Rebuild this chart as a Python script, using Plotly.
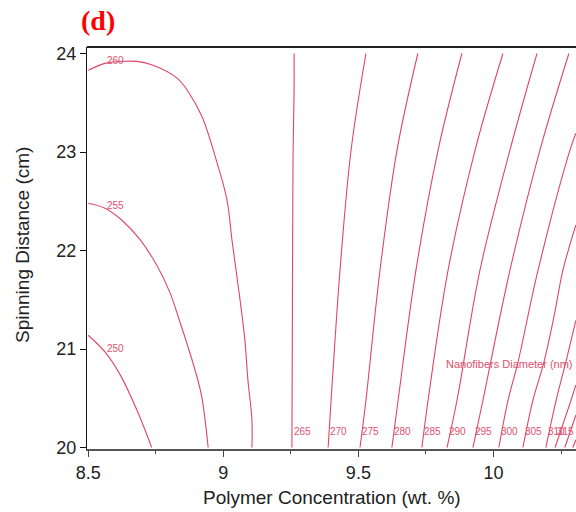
import plotly.graph_objects as go

# ---- data ----
levels = [250, 255, 260, 265, 270, 275, 280, 285, 290, 295, 300, 305, 310, 315, 320, 325]

x_250 = [8.500, 8.562, 8.618, 8.685, 8.735]
y_250 = [21.14, 20.97, 20.74, 20.35, 20.00]

x_255 = [8.500, 8.562, 8.624, 8.692, 8.754, 8.803, 8.833, 8.865, 8.895, 8.920, 8.944]
y_255 = [22.48, 22.43, 22.31, 22.11, 21.85, 21.57, 21.33, 21.06, 20.79, 20.52, 20.00]

x_260 = [8.500, 8.562, 8.629, 8.681, 8.740, 8.829, 8.866, 8.921, 8.977, 9.014, 9.032, 9.062, 9.080, 9.091, 9.106, 9.106]
y_260 = [23.83, 23.90, 23.92, 23.92, 23.88, 23.75, 23.63, 23.36, 22.89, 22.51, 22.11, 21.50, 21.09, 20.69, 20.28, 20.00]

x_265 = [9.262, 9.262, 9.258, 9.256, 9.254]
y_265 = [24.00, 23.61, 22.94, 21.50, 20.00]

x_270 = [9.528, 9.473, 9.432, 9.399, 9.388]
y_270 = [24.00, 23.02, 21.80, 20.48, 20.00]

x_275 = [9.720, 9.643, 9.580, 9.528, 9.506]
y_275 = [24.00, 23.02, 21.80, 20.48, 20.00]

x_280 = [9.883, 9.795, 9.713, 9.647, 9.624]
y_280 = [24.00, 23.02, 21.80, 20.48, 20.00]

x_285 = [10.035, 9.932, 9.832, 9.758, 9.735]
y_285 = [24.00, 23.02, 21.80, 20.48, 20.00]

x_290 = [10.161, 10.061, 9.950, 9.865, 9.828]
y_290 = [24.00, 23.02, 21.80, 20.48, 20.00]

x_295 = [10.279, 10.172, 10.061, 9.961, 9.924]
y_295 = [24.00, 23.02, 21.80, 20.48, 20.00]

x_300 = [10.305, 10.283, 10.165, 10.091, 10.054, 10.020]
y_300 = [23.19, 23.02, 21.80, 20.87, 20.48, 20.00]

x_305 = [10.305, 10.257, 10.224, 10.187, 10.146, 10.109]
y_305 = [22.26, 21.80, 21.33, 20.87, 20.48, 20.00]

x_310 = [10.305, 10.268, 10.232, 10.194]
y_310 = [21.29, 20.87, 20.48, 20.00]

x_315 = [10.305, 10.287, 10.228]
y_315 = [20.635, 20.48, 20.00]

x_320 = [10.305, 10.264]
y_320 = [20.33, 20.00]

x_325 = [10.305, 10.294]
y_325 = [20.08, 20.00]

left_label_levels = [250, 255, 260]
bottom_label_levels = [265, 270, 275, 280, 285, 290, 295, 300, 305, 310, 315]

x_ticks = [8.5, 9, 9.5, 10]
y_ticks = [20, 21, 22, 23, 24]

series_name = "Nanofibers Diameter (nm)"
x_title = "Polymer Concentration (wt. %)"
y_title = "Spinning Distance (cm)"
panel_title = "(d)"

# ---- figure ----
LINE = "#e04664"
TEXT = "#e0506e"

series = {
    250: (x_250, y_250), 255: (x_255, y_255), 260: (x_260, y_260),
    265: (x_265, y_265), 270: (x_270, y_270), 275: (x_275, y_275),
    280: (x_280, y_280), 285: (x_285, y_285), 290: (x_290, y_290),
    295: (x_295, y_295), 300: (x_300, y_300), 305: (x_305, y_305),
    310: (x_310, y_310), 315: (x_315, y_315), 320: (x_320, y_320),
    325: (x_325, y_325),
}

fig = go.Figure()
for lv in levels:
    xs, ys = series[lv]
    fig.add_trace(go.Scatter(x=xs, y=ys, mode="lines",
                             line=dict(color=LINE, width=1.1, shape="spline", smoothing=1.0),
                             showlegend=False, hoverinfo="skip", name=str(lv)))

annotations = []
for lv in left_label_levels:
    xs, ys = series[lv]
    annotations.append(dict(x=xs[1], y=ys[1], text=str(lv), showarrow=False,
                            xanchor="left", yanchor="middle", yshift=3,
                            font=dict(family="Liberation Sans, Arial", size=10, color=TEXT)))
for lv in bottom_label_levels:
    xs, ys = series[lv]
    annotations.append(dict(x=xs[-1], y=ys[-1], text=str(lv), showarrow=False,
                            xanchor="left", yanchor="middle", yshift=16, xshift=0,
                            font=dict(family="Liberation Sans, Arial", size=10, color=TEXT)))

annotations.append(dict(x=x_285[-1] + 0.080, y=20.85, text=series_name, showarrow=False,
                        xanchor="left", yanchor="middle",
                        font=dict(family="Liberation Sans, Arial", size=11, color=TEXT)))

# axis titles and panel label
annotations.append(dict(xref="paper", yref="paper", x=0.5, y=0, yshift=-48,
                        text=x_title, showarrow=False, xanchor="center", yanchor="middle",
                        font=dict(family="Liberation Sans, Arial", size=19, color="#222")))
annotations.append(dict(xref="paper", yref="paper", x=0, y=0.5, xshift=-65, yshift=3,
                        text=y_title, showarrow=False, xanchor="center", yanchor="middle",
                        textangle=-90,
                        font=dict(family="Liberation Sans, Arial", size=19, color="#222")))
annotations.append(dict(xref="paper", yref="paper", x=0, y=1, xshift=11, yshift=27,
                        text="<b>" + panel_title + "</b>", showarrow=False,
                        xanchor="center", yanchor="middle",
                        font=dict(family="Liberation Serif, Times New Roman", size=28, color="#ff0000")))

fig.update_layout(
    width=576, height=512,
    margin=dict(l=87, r=0, t=47, b=63, autoexpand=False),
    paper_bgcolor="white", plot_bgcolor="white",
    annotations=annotations,
    shapes=[dict(type="line", xref="paper", yref="paper", x0=0, x1=1, y0=1, y1=1,
                 line=dict(color="#222", width=2))],
)
fig.update_xaxes(
    range=[8.4956, 10.3054], tickvals=x_ticks, ticktext=[str(v) for v in x_ticks],
    showgrid=False, zeroline=False, showline=True, linecolor="#555", linewidth=2,
    ticks="outside", ticklen=6, tickcolor="#444", tickwidth=1.2,
    minor=dict(dtick=0.25, tick0=8.5, ticks="outside", ticklen=3, tickcolor="#444", tickwidth=1.2, showgrid=False),
    tickfont=dict(family="Liberation Sans, Arial", size=18, color="#222"),
)
fig.update_yaxes(
    range=[19.985, 24.066], tickvals=y_ticks, ticktext=[str(v) for v in y_ticks],
    showgrid=False, zeroline=False, showline=True, linecolor="#111", linewidth=1.2,
    ticks="outside", ticklen=6, tickcolor="#111", tickwidth=1.2,
    tickfont=dict(family="Liberation Sans, Arial", size=18, color="#222"),
)

fig.write_html("out.html")
